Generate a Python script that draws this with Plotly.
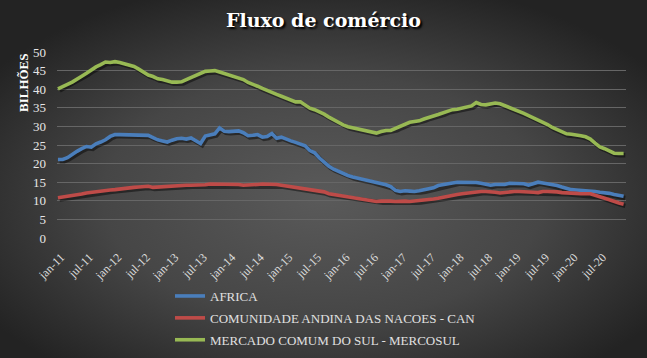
import base64
import plotly.graph_objects as go

months = ["jan", "fev", "mar", "abr", "mai", "jun", "jul", "ago", "set", "out", "nov", "dez"]
periods = [f"{m}-{y:02d}" for y in range(11, 21) for m in months]

africa = [21.1, 21.1, 21.6, 22.5, 23.3, 24.0, 24.6, 24.4, 25.3, 25.8, 26.4, 27.3,
          27.8, 27.8, 27.8, 27.8, 27.8, 27.8, 27.8, 27.6, 27.0, 26.4, 26.1, 25.8,
          26.3, 26.7, 26.8, 26.6, 26.9, 26.1, 25.4, 27.4, 27.8, 28.0, 29.6, 28.7,
          28.6, 28.6, 28.8, 28.3, 27.5, 27.6, 27.8, 27.1, 27.3, 28.1, 26.8, 27.1,
          26.5, 26.1, 25.7, 25.3, 24.8, 23.5, 22.9, 21.5, 20.3, 19.3, 18.5, 17.9,
          17.3, 16.8, 16.4, 16.1, 15.9, 15.6, 15.3, 14.9, 14.6, 14.3, 13.8, 12.8,
          12.5, 12.7, 12.6, 12.5, 12.7, 12.9, 13.2, 13.5, 14.1, 14.4, 14.6, 14.8,
          15.0, 15.0, 15.0, 15.0, 14.9, 14.7, 14.4, 14.2, 14.4, 14.3, 14.4, 14.7,
          14.7, 14.6, 14.6, 14.2, 14.7, 15.0, 14.8, 14.6, 14.4, 14.1, 13.7, 13.3,
          13.0, 12.9, 12.8, 12.8, 12.8, 12.5, 12.3, 12.2, 12.0, 11.7, 11.4, 11.2]

can = [10.8, 11.0, 11.1, 11.2, 11.5, 11.8, 12.1, 12.3, 12.5, 12.6, 12.7, 12.9,
       13.0, 13.2, 13.3, 13.4, 13.6, 13.7, 13.8, 13.9, 13.6, 13.7, 13.9, 13.9,
       14.1, 14.2, 14.2, 14.2, 14.2, 14.2, 14.2, 14.3, 14.5, 14.5, 14.5, 14.5,
       14.5, 14.5, 14.4, 14.2, 14.2, 14.2, 14.4, 14.5, 14.5, 14.4, 14.4, 14.2,
       14.0, 13.8, 13.7, 13.5, 13.4, 13.2, 13.0, 12.8, 12.4, 11.9, 11.7, 11.5,
       11.3, 11.1, 10.9, 10.7, 10.5, 10.3, 10.1, 9.8, 9.9, 10.0, 9.9, 9.8,
       9.9, 9.9, 9.8, 9.9, 10.0, 10.2, 10.4, 10.5, 10.7, 11.0, 11.2, 11.5,
       11.7, 11.9, 12.1, 12.3, 12.5, 12.5, 12.5, 12.5, 12.3, 12.1, 12.3, 12.5,
       12.5, 12.5, 12.5, 12.4, 12.3, 12.2, 12.5, 12.5, 12.5, 12.4, 12.2, 12.2,
       12.1, 12.0, 11.9, 11.9, 11.9, 11.5, 11.2, 10.7, 10.3, 9.8, 9.4, 9.1]

mercosul = [40.1, 40.8, 41.3, 41.9, 42.6, 43.5, 44.3, 45.2, 46.0, 46.6, 47.3, 47.2,
            47.4, 47.2, 46.9, 46.6, 46.1, 45.4, 44.5, 43.8, 43.4, 42.8, 42.6, 42.2,
            41.9, 41.9, 42.0, 42.6, 43.2, 43.6, 44.3, 44.8, 44.9, 45.0, 44.6, 44.2,
            43.9, 43.5, 43.0, 42.6, 41.8, 41.4, 40.8, 40.2, 39.6, 39.2, 38.6, 38.1,
            37.6, 37.2, 36.6, 36.6, 35.8, 34.9, 34.5, 34.0, 33.3, 32.5, 31.8, 31.0,
            30.4, 29.9, 29.6, 29.3, 29.0, 28.8, 28.5, 28.2, 28.6, 28.9, 28.9, 29.4,
            30.0, 30.6, 31.1, 31.3, 31.5, 32.0, 32.5, 32.8, 33.2, 33.6, 34.2, 34.5,
            34.6, 34.9, 35.2, 35.5, 36.4, 35.9, 35.8, 36.0, 36.3, 36.1, 35.6, 35.2,
            34.5, 34.1, 33.5, 32.9, 32.3, 31.8, 31.2, 30.5, 29.7, 29.1, 28.5, 28.0,
            27.9, 27.8, 27.5, 27.2, 26.6, 25.5, 24.5, 24.0, 23.5, 22.8, 22.7, 22.7]

series_names = ["AFRICA", "COMUNIDADE ANDINA DAS NACOES - CAN", "MERCADO COMUM DO SUL - MERCOSUL"]
series_values = [africa, can, mercosul]
series_colors = ["#4A7EBB", "#BE4B48", "#98B954"]

tick_idx = list(range(0, len(periods), 6))
tick_text = [periods[i] for i in tick_idx]
x = list(range(len(periods)))

W, H = 647, 358
L, R, T, B = 57, 21, 52, 120
PW, PH = W - L - R, H - T - B

svg = (
    '<svg xmlns="http://www.w3.org/2000/svg" width="647" height="358" viewBox="0 0 647 358" preserveAspectRatio="none">'
    '<defs><radialGradient id="g" cx="0.5" cy="0.55" r="0.62" gradientUnits="objectBoundingBox">'
    '<stop offset="0" stop-color="#5a5a5a"/><stop offset="0.55" stop-color="#464646"/>'
    '<stop offset="1" stop-color="#232323"/></radialGradient></defs>'
    '<rect width="647" height="358" fill="url(#g)"/></svg>'
)
bg = "data:image/svg+xml;base64," + base64.b64encode(svg.encode()).decode()

fig = go.Figure()
# soft shadows beneath the lines
for vals in series_values:
    fig.add_trace(go.Scatter(
        x=[v + 0.35 for v in x], y=[v - 0.45 for v in vals], mode="lines",
        line=dict(color="rgba(0,0,0,0.45)", width=4.5), hoverinfo="skip", showlegend=False,
    ))
for k, (name, vals, col) in enumerate(zip(series_names, series_values, series_colors)):
    fig.add_trace(go.Scatter(
        x=x, y=vals, mode="lines", name=name, legendgroup=f"g{k}",
        line=dict(color=col, width=3.6),
    ))

fig.update_layout(
    width=W, height=H,
    margin=dict(l=L, r=R, t=T, b=B, autoexpand=False),
    paper_bgcolor="#333333",
    plot_bgcolor="rgba(0,0,0,0)",
    images=[dict(source=bg, xref="paper", yref="paper", x=-L / PW, y=1 + T / PH,
                 sizex=W / PW, sizey=H / PH, xanchor="left", yanchor="top",
                 sizing="stretch", layer="below")],
    title=dict(text="<b>Fluxo de comércio</b>", x=0.5, xanchor="center", y=1 - 14 / H, yanchor="top",
               font=dict(family="DejaVu Serif", size=19, color="#FFFFFF", shadow="2px 2px 2px #000000")),
    font=dict(family="Liberation Serif", color="#D9D9D9", size=12),
    xaxis=dict(range=[-0.2, 119.5], tickmode="array", tickvals=tick_idx, ticktext=tick_text,
               tickangle=-45, showgrid=False, zeroline=False, showline=False, ticks="",
               ticklabelstandoff=9, ticklabelshift=3,
               tickfont=dict(family="Liberation Serif", size=12, color="#D9D9D9")),
    yaxis=dict(range=[0, 50], dtick=5, showgrid=True, gridcolor="#666666", gridwidth=1,
               zeroline=False, showline=False, ticks="", ticklabelstandoff=10,
               tickfont=dict(family="Liberation Serif", size=13, color="#E6E6E6")),
    annotations=[dict(text="<b>BILHÕES</b>", textangle=-90, xref="paper", yref="paper",
                      x=(23 - L) / PW, y=(H - B - 83) / PH, xanchor="center", yanchor="middle",
                      showarrow=False,
                      font=dict(family="Liberation Serif", size=13, color="#FFFFFF"))],
    legend=dict(orientation="v", x=(170 - L) / PW, y=(H - B - 281) / PH,
                xanchor="left", yanchor="top", bgcolor="rgba(0,0,0,0)", tracegroupgap=2,
                font=dict(family="Liberation Serif", size=13, color="#E0E0E0")),
    showlegend=True,
)

fig.write_html("out.html", config={"displayModeBar": False},
               post_script="document.body.style.margin='0';document.body.style.background='#232323';")
